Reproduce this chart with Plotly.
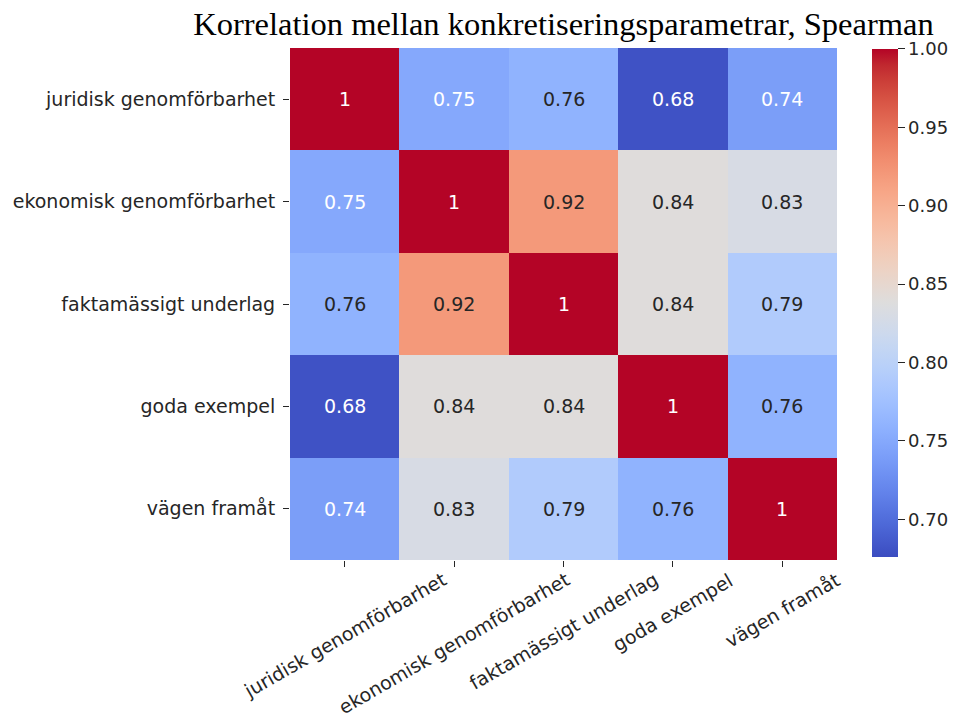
import plotly.graph_objects as go

# Spearman correlation between the concretisation parameters
params = [
    "juridisk genomförbarhet",
    "ekonomisk genomförbarhet",
    "faktamässigt underlag",
    "goda exempel",
    "vägen framåt",
]

row_juridisk = [1.00, 0.75, 0.76, 0.68, 0.74]
row_ekonomisk = [0.75, 1.00, 0.92, 0.84, 0.83]
row_fakta = [0.76, 0.92, 1.00, 0.84, 0.79]
row_goda = [0.68, 0.84, 0.84, 1.00, 0.76]
row_vagen = [0.74, 0.83, 0.79, 0.76, 1.00]
corr = [row_juridisk, row_ekonomisk, row_fakta, row_goda, row_vagen]

cbar_ticks = [0.70, 0.75, 0.80, 0.85, 0.90, 0.95, 1.00]
zmin, zmax = 0.676, 1.00

# Diverging cool-warm colour map (Moreland)
cw = [
    (59, 76, 192), (68, 90, 204), (77, 104, 215), (87, 117, 225), (98, 130, 234),
    (108, 142, 241), (119, 154, 247), (130, 165, 251), (141, 176, 254), (152, 185, 255),
    (163, 194, 255), (174, 201, 253), (184, 208, 249), (194, 213, 244), (204, 217, 238),
    (213, 219, 230), (221, 221, 221), (229, 216, 209), (236, 211, 197), (241, 204, 185),
    (245, 196, 173), (247, 187, 160), (247, 177, 148), (247, 166, 135), (244, 154, 123),
    (241, 141, 111), (236, 127, 99), (229, 112, 88), (222, 96, 77), (213, 80, 66),
    (203, 62, 56), (192, 40, 47), (180, 4, 38),
]
n = len(cw) - 1
colorscale = [[i / n, "rgb(%d,%d,%d)" % c] for i, c in enumerate(cw)]


def color_at(v):
    t = min(max((v - zmin) / (zmax - zmin), 0.0), 1.0) * n
    i = min(int(t), n - 1)
    f = t - i
    return [cw[i][k] + (cw[i + 1][k] - cw[i][k]) * f for k in range(3)]


def luminance(rgb):
    lin = []
    for c in rgb:
        c = c / 255.0
        lin.append(c / 12.92 if c <= 0.03928 else ((c + 0.055) / 1.055) ** 2.4)
    return 0.2126 * lin[0] + 0.7152 * lin[1] + 0.0722 * lin[2]


def fmt(v):
    return "%.2g" % v


fig = go.Figure(
    go.Heatmap(
        z=corr,
        x=params,
        y=params,
        zmin=zmin,
        zmax=zmax,
        colorscale=colorscale,
        xgap=0,
        ygap=0,
        hoverinfo="skip",
        colorbar=dict(
            x=1.064,
            xanchor="left",
            xref="paper",
            y=0.502,
            yanchor="middle",
            lenmode="pixels",
            len=508,
            thickness=26,
            thicknessmode="pixels",
            outlinewidth=0,
            xpad=0,
            ypad=0,
            tickvals=cbar_ticks,
            ticktext=["%.2f" % t for t in cbar_ticks],
            ticks="outside",
            ticklen=7,
            tickwidth=1,
            tickcolor="#262626",
            tickfont=dict(family="DejaVu Sans", size=18, color="#262626"),
        ),
    )
)

annotations = []
for r, row in enumerate(corr):
    for c, v in enumerate(row):
        txt_color = "#262626" if luminance(color_at(v)) > 0.408 else "white"
        annotations.append(
            dict(
                x=params[c],
                y=params[r],
                xref="x",
                yref="y",
                text=fmt(v),
                showarrow=False,
                font=dict(family="DejaVu Sans", size=19, color=txt_color),
            )
        )

# Rotated column labels, centred under each tick
for p in params:
    annotations.append(
        dict(
            x=p,
            y=0,
            xref="x",
            yref="paper",
            yshift=-7,
            text=p,
            textangle=-30,
            showarrow=False,
            xanchor="center",
            yanchor="top",
            borderpad=0,
            font=dict(family="DejaVu Sans", size=19, color="#262626"),
        )
    )

fig.update_layout(
    width=954,
    height=717,
    margin=dict(l=290, r=117, t=48, b=157, autoexpand=False),
    paper_bgcolor="white",
    plot_bgcolor="white",
    title=dict(
        text="Korrelation mellan konkretiseringsparametrar, Spearman",
        font=dict(family="Liberation Serif", size=32.5, color="black"),
        x=0.5,
        xref="paper",
        xanchor="center",
        y=1 - 24 / 717,
        yref="container",
        yanchor="middle",
    ),
    annotations=annotations,
    xaxis=dict(
        range=[-0.5, len(params) - 0.5],
        autorange=False,
        showticklabels=False,
        ticks="outside",
        ticklen=6,
        tickwidth=1,
        tickcolor="#262626",
        showgrid=False,
        zeroline=False,
        showline=False,
        automargin=False,
    ),
    yaxis=dict(
        range=[len(params) - 0.5, -0.5],
        autorange=False,
        ticks="outside",
        ticklen=6,
        tickwidth=1,
        tickcolor="#262626",
        ticklabelstandoff=4,
        tickfont=dict(family="DejaVu Sans", size=19, color="#262626"),
        showgrid=False,
        zeroline=False,
        showline=False,
        automargin=False,
    ),
)

fig.write_html("out.html")
